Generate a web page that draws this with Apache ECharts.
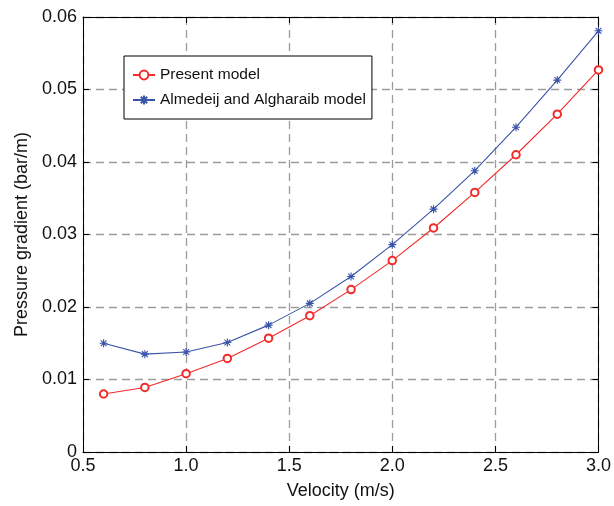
<!DOCTYPE html>
<html>
<head>
<meta charset="utf-8">
<script src="https://cdn.jsdelivr.net/npm/echarts@6/dist/echarts.min.js"></script>
<style>
  html, body { margin: 0; padding: 0; background: #fff; }
  #chart { width: 614px; height: 506px; }
</style>
</head>
<body>
<div id="chart"></div>
<script>
// Flow velocity (m/s)
const velocity = [0.6, 0.8, 1.0, 1.2, 1.4, 1.6, 1.8, 2.0, 2.2, 2.4, 2.6, 2.8, 3.0];
// Pressure gradient (bar/m)
const presentModel = [0.0080, 0.0089, 0.0108, 0.0129, 0.0157, 0.0188, 0.0224, 0.0264, 0.0309, 0.0358, 0.0410, 0.0466, 0.0527];
const almedeijModel = [0.0150, 0.0135, 0.0138, 0.0151, 0.0175, 0.0205, 0.0242, 0.0286, 0.0335, 0.0388, 0.0448, 0.0513, 0.0581];
const xTicks = [0.5, 1.0, 1.5, 2.0, 2.5, 3.0];
const yTicks = [0, 0.01, 0.02, 0.03, 0.04, 0.05, 0.06];

const FONT = 'Liberation Sans';
const RED = '#f22b2b';
const BLUE = '#3a54a8';
const asterisk = 'path://M0,-5L0,5M-5,0L5,0M-3.6,-3.6L3.6,3.6M-3.6,3.6L3.6,-3.6';

const pairs = (ys) => velocity.map((v, i) => [v, ys[i]]);

const chart = echarts.init(document.getElementById('chart'), null, { renderer: 'canvas' });

const gridLine = { show: true, lineStyle: { color: '#9c9c9c', type: [8, 5], width: 1.3 } };
const axisBase = {
  axisLine: { show: true, onZero: false, lineStyle: { color: '#000', width: 1 } },
  axisTick: { show: true, inside: true, length: 6, lineStyle: { color: '#000' } }
};

chart.setOption({
  animation: false,
  backgroundColor: '#fff',
  grid: { left: 83, right: 15, top: 17, bottom: 54, containLabel: false },
  legend: {
    orient: 'vertical',
    left: 124,
    top: 56,
    padding: [11, 6, 11, 8],
    itemGap: 9,
    itemWidth: 22,
    itemHeight: 11,
    borderColor: '#000',
    borderWidth: 1,
    backgroundColor: '#fff',
    textStyle: { fontFamily: FONT, fontSize: 15.5, color: '#111' },
    data: ['Present model', 'Almedeij and Algharaib model']
  },
  xAxis: [
    Object.assign({
      type: 'value', min: 0.5, max: 3.0, interval: 0.5,
      name: 'Velocity (m/s)', nameLocation: 'middle', nameGap: 30,
      nameTextStyle: { fontFamily: FONT, fontSize: 18, color: '#111' },
      axisLabel: { fontFamily: FONT, fontSize: 18, color: '#111', margin: 5,
        formatter: (v) => xTicks.includes(+v.toFixed(1)) ? v.toFixed(1) : '' },
      splitLine: gridLine
    }, axisBase),
    Object.assign({
      type: 'value', min: 0.5, max: 3.0, interval: 0.5, position: 'top',
      axisLabel: { show: false }, splitLine: { show: false }
    }, axisBase)
  ],
  yAxis: [
    Object.assign({
      type: 'value', min: 0, max: 0.06, interval: 0.01,
      name: 'Pressure gradient (bar/m)', nameLocation: 'middle', nameGap: 52,
      nameTextStyle: { fontFamily: FONT, fontSize: 18, color: '#111' },
      axisLabel: { fontFamily: FONT, fontSize: 18, color: '#111', margin: 6,
        formatter: (v) => {
          const r = +v.toFixed(2);
          return yTicks.includes(r) ? (r === 0 ? '0' : r.toFixed(2)) : '';
        } },
      splitLine: gridLine
    }, axisBase),
    Object.assign({
      type: 'value', min: 0, max: 0.06, interval: 0.01, position: 'right',
      axisLabel: { show: false }, splitLine: { show: false }
    }, axisBase)
  ],
  series: [
    {
      name: 'Present model',
      type: 'line',
      data: pairs(presentModel),
      symbol: 'emptyCircle',
      symbolSize: 7.5,
      showAllSymbol: true,
      lineStyle: { color: RED, width: 1.1 },
      itemStyle: { color: RED, borderColor: RED, borderWidth: 1.1 },
      z: 3
    },
    {
      name: 'Almedeij and Algharaib model',
      type: 'line',
      data: pairs(almedeijModel),
      symbol: asterisk,
      symbolSize: 8,
      showAllSymbol: true,
      lineStyle: { color: BLUE, width: 1.1 },
      itemStyle: { color: BLUE, borderColor: BLUE, borderWidth: 1.1 },
      z: 3
    }
  ]
});
</script>
</body>
</html>
